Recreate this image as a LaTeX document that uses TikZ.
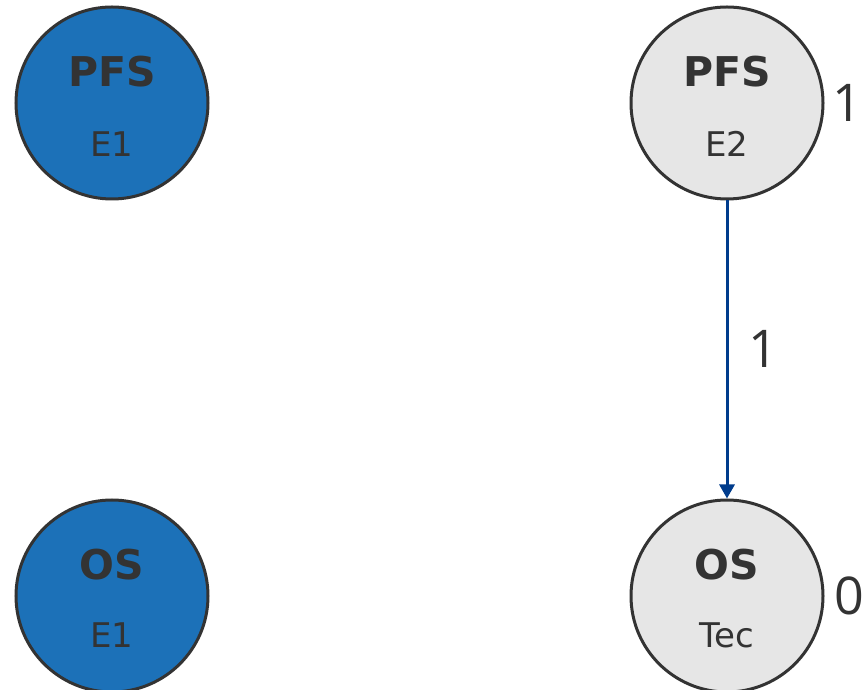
\documentclass[tikz,border=0pt]{standalone}
\usepackage{fontspec}
\setmainfont{DejaVu Sans}
\newfontfamily\numfont{Open Sans}
\usetikzlibrary{arrows.meta}
\definecolor{nodeblue}{HTML}{1C71B8}
\definecolor{nodegrey}{HTML}{E6E6E6}
\definecolor{ink}{HTML}{333333}
\definecolor{edgeblue}{HTML}{003C8C}
\tikzset{
  ent/.style={circle, draw=ink, line width=3pt, minimum size=192pt, inner sep=0pt},
  done/.style={ent, fill=nodeblue},
  todo/.style={ent, fill=nodegrey},
  title/.style={anchor=base, inner sep=0pt, text=ink, font=\fontsize{41}{41}\selectfont\bfseries},
  sub/.style={anchor=base, inner sep=0pt, text=ink, font=\fontsize{34}{34}\selectfont},
  num/.style={anchor=base west, inner sep=0pt, text=ink, font=\numfont\fontsize{52}{52}\selectfont},
  flow/.style={draw=edgeblue, line width=3pt, -{Triangle[width=15pt,length=14pt]}}
}
\begin{document}
\begin{tikzpicture}[x=1pt,y=1pt]
\useasboundingbox (0,0) rectangle (865,690);
% nodes
\node[done] (pfs1) at (112,587) {};
\node[todo] (pfs2) at (727,587) {};
\node[done] (os1) at (112,94) {};
\node[todo] (os2) at (727,94) {};
% texts
\node[title] (pfs1t) at (112,603) {PFS};
\node[sub] (pfs1s) at (112,533) {E1};
\node[title] (pfs2t) at (727,603) {PFS};
\node[sub] (pfs2s) at (727,533) {E2};
\node[title] (os1t) at (112,110) {OS};
\node[sub] (os1s) at (112,42) {E1};
\node[title] (os2t) at (727,110) {OS};
\node[sub] (os2s) at (727,42) {Tec};
% counts
\node[num] (c1) at (832,568) {1};
\node[num] (c2) at (834,75) {0};
% edge
\draw[flow] (pfs2) -- (os2);
\node[num] (e1) at (748,322) {1};
\end{tikzpicture}
\end{document}
